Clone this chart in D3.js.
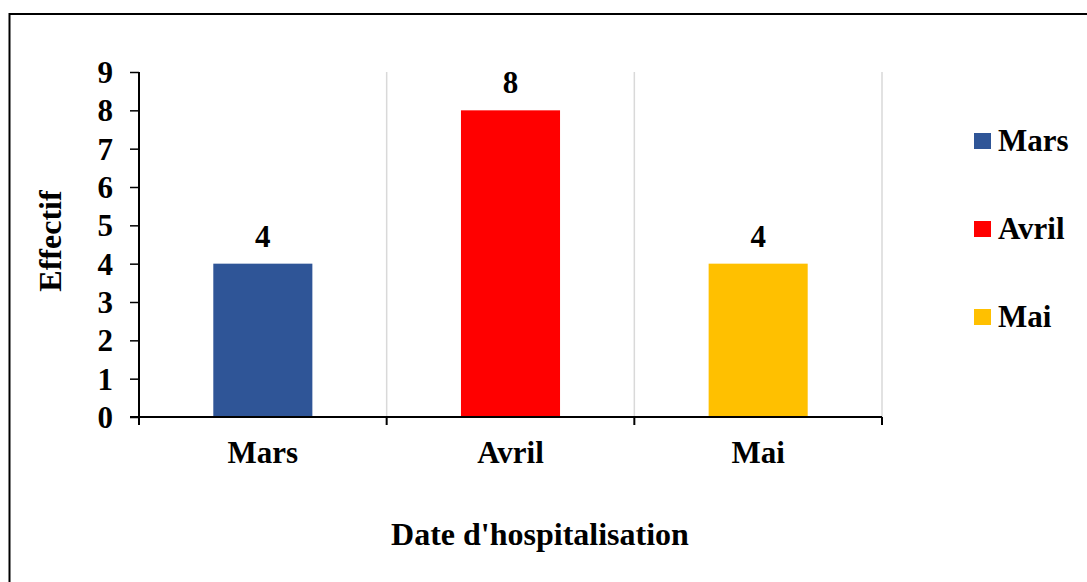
<!DOCTYPE html>
<html>
<head>
<meta charset="utf-8">
<script src="https://cdn.jsdelivr.net/npm/d3@7"></script>
<style>
  body { margin: 0; background: #fff; }
  text { font-family: "Liberation Serif", "Times New Roman", serif; font-weight: bold; fill: #000; }
</style>
</head>
<body>
<svg id="graph" width="1087" height="582"></svg>
<script>
// chart data
const months = ["Mars", "Avril", "Mai"];
const effectif = [4, 8, 4];
const colors = ["#2F5597", "#FF0000", "#FFC000"];
const yTicks = [0, 1, 2, 3, 4, 5, 6, 7, 8, 9];

const svg = d3.select("#graph");

// outer frame (runs off the right and bottom edges)
svg.append("rect")
    .attr("x", 9.5).attr("y", 14)
    .attr("width", 1100).attr("height", 600)
    .attr("fill", "none")
    .attr("stroke", "#000")
    .attr("stroke-width", 2);

const plotLeft = 139, plotRight = 882, plotTop = 72, plotBottom = 417;

const x = d3.scaleBand()
    .domain(months)
    .range([plotLeft, plotRight])
    .paddingInner(0.6)
    .paddingOuter(0.3);

const y = d3.scaleLinear()
    .domain([0, 9])
    .range([plotBottom, plotTop]);

// vertical gridlines at category boundaries
const step = x.step();
const bounds = months.map((m, i) => plotLeft + step * (i + 1));
svg.append("g")
    .selectAll("line")
    .data(bounds)
    .enter().append("line")
        .attr("x1", d => d).attr("x2", d => d)
        .attr("y1", plotTop).attr("y2", plotBottom)
        .attr("stroke", "#d9d9d9")
        .attr("stroke-width", 1.5);

// bars
svg.append("g")
    .selectAll("rect")
    .data(months)
    .enter().append("rect")
        .attr("x", d => x(d))
        .attr("y", (d, i) => y(effectif[i]))
        .attr("width", x.bandwidth())
        .attr("height", (d, i) => y(0) - y(effectif[i]))
        .attr("fill", (d, i) => colors[i]);

// value labels
svg.append("g")
    .selectAll("text")
    .data(months)
    .enter().append("text")
        .attr("x", d => x(d) + x.bandwidth() / 2)
        .attr("y", (d, i) => y(effectif[i]) - 17)
        .attr("text-anchor", "middle")
        .style("font-size", "31px")
        .text((d, i) => effectif[i]);

// Y axis
const yAxis = svg.append("g")
    .attr("transform", `translate(${plotLeft},0)`)
    .call(d3.axisLeft(y).tickValues(yTicks).tickSize(9).tickSizeOuter(0).tickPadding(17));
yAxis.select(".domain").attr("stroke", "#000").attr("stroke-width", 2)
    .attr("d", `M0,${plotTop}V${plotBottom + 8}`);
yAxis.selectAll(".tick line").attr("stroke", "#000").attr("stroke-width", 1.5);
yAxis.selectAll(".tick text")
    .attr("dy", "0.34em")
    .style("font-size", "31px")
    .style("font-family", "'Liberation Serif', 'Times New Roman', serif")
    .style("font-weight", "bold")
    .attr("fill", "#000");

// X axis line and boundary ticks
svg.append("line")
    .attr("x1", plotLeft - 9).attr("x2", plotRight)
    .attr("y1", plotBottom).attr("y2", plotBottom)
    .attr("stroke", "#000").attr("stroke-width", 2);
svg.append("g")
    .selectAll("line")
    .data(bounds)
    .enter().append("line")
        .attr("x1", d => d).attr("x2", d => d)
        .attr("y1", plotBottom).attr("y2", plotBottom + 8)
        .attr("stroke", "#000").attr("stroke-width", 2);

// X tick labels
svg.append("g")
    .selectAll("text")
    .data(months)
    .enter().append("text")
        .attr("x", d => x(d) + x.bandwidth() / 2)
        .attr("y", 463)
        .attr("text-anchor", "middle")
        .style("font-size", "31px")
        .text(d => d);

// axis titles
svg.append("text")
    .attr("x", 540)
    .attr("y", 545)
    .attr("text-anchor", "middle")
    .style("font-size", "32px")
    .text("Date d'hospitalisation");

svg.append("text")
    .attr("transform", "rotate(-90)")
    .attr("x", -241)
    .attr("y", 61)
    .attr("text-anchor", "middle")
    .style("font-size", "32px")
    .text("Effectif");

// legend
const legend = svg.append("g")
    .selectAll("g")
    .data(months)
    .enter().append("g")
        .attr("transform", (d, i) => `translate(974,${133 + i * 88})`);
legend.append("rect")
    .attr("width", 17).attr("height", 16)
    .attr("fill", (d, i) => colors[i]);
legend.append("text")
    .attr("x", 24)
    .attr("y", 18)
    .style("font-size", "31px")
    .text(d => d);
</script>
</body>
</html>
